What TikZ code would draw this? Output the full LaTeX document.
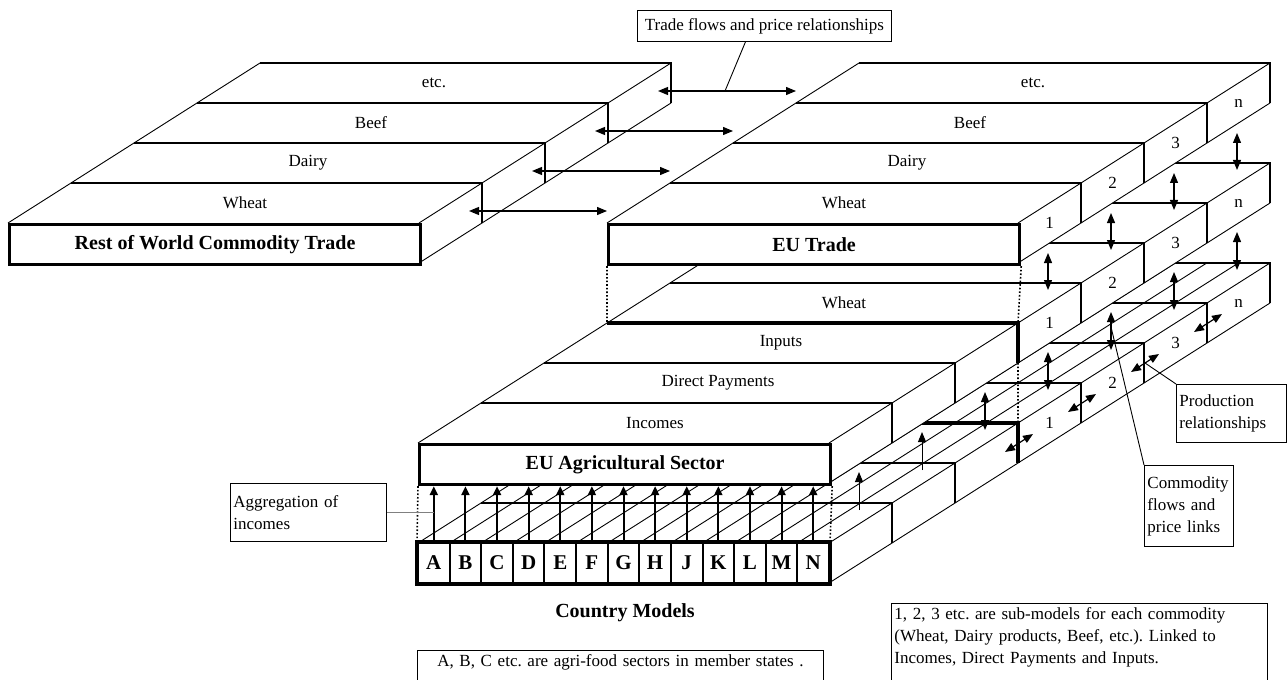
\documentclass[tikz,border=0pt]{standalone}
\usepackage{fontspec}
\setmainfont{Liberation Serif}
\usetikzlibrary{arrows.meta}
\frenchspacing
\tikzset{
  face/.style={fill=white},
  slant/.style={line width=0.45pt},
  backedge/.style={line width=1pt},
  hardedge/.style={line width=1.6pt},
  front/.style={draw,line width=1.6pt,fill=white,inner sep=0pt,anchor=north west,
    minimum width=205.5pt,minimum height=20pt,font=\fontsize{10}{12}\selectfont\bfseries},
  cell/.style={draw,line width=1pt,fill=white,inner sep=0pt,minimum width=15.81pt,
    minimum height=20pt,font=\fontsize{10.5}{12}\selectfont\bfseries},
  lbl/.style={inner sep=0pt,font=\fontsize{8.5}{10}\selectfont},
  title/.style={inner sep=0pt,font=\fontsize{10}{12}\selectfont\bfseries},
  note/.style={draw,line width=0.45pt,fill=white,inner xsep=1.5pt,inner ysep=2pt,
    anchor=north west,align=left,font=\fontsize{8.5}{11}\selectfont},
  leader/.style={line width=0.45pt},
  guide/.style={densely dotted,line width=0.8pt},
  link/.style={line width=0.6pt,{Triangle[length=5pt,width=4pt]}-{Triangle[length=5pt,width=4pt]}},
  uplink/.style={line width=0.5pt,-{Triangle[length=5pt,width=4pt]}},
  sumlink/.style={line width=1pt,-{Triangle[length=4.5pt,width=4pt]}},
}

\begin{document}
\begin{tikzpicture}[x=0.5pt,y=-0.5pt]
\useasboundingbox (0,0) rectangle (1288,679);
\foreach \X/\Y/\bk/\rl [count=\n] in {796/303/backedge/n,733/343/backedge/3,670/383/backedge/2,
  607/423/backedge/1,544/463/hardedge/,481/503/backedge/,418/543/backedge/}{
  \fill[face] (\X,\Y) -- ++(411,0) -- ++(63,-40) -- ++(-411,0) -- cycle;
  \fill[face] (\X+411,\Y) -- ++(63,-40) -- ++(0,40) -- ++(-63,40) -- cycle;
  \foreach \i in {1,...,12} \draw[slant] ({\X+31.615*\i},\Y) -- ++(63,-40);
  \draw[slant] (\X,\Y) -- ++(63,-40) (\X+411,\Y) -- ++(63,-40) (\X+411,\Y+40) -- ++(63,-40);
  \draw[\bk] (\X+63,\Y-40) -- ++(411,0) -- ++(0,40);
  \node[lbl] (cs\n) at (\X+442.5,\Y) {\rl};
}
\foreach \X/\Y/\bk/\tl/\rl [count=\n] in {796/203/backedge//n,733/243/backedge//3,670/283/backedge//2,
  607/323/backedge/Wheat/1,544/363/hardedge/Inputs/,481/403/backedge/Direct Payments/,418/443/backedge/Incomes/,
  796/103/backedge/etc./n,733/143/backedge/Beef/3,670/183/backedge/Dairy/2,607/223/backedge/Wheat/1,
  197/103/backedge/etc./,134/143/backedge/Beef/,71/183/backedge/Dairy/,8/223/backedge/Wheat/}{
  \fill[face] (\X,\Y) -- ++(411,0) -- ++(63,-40) -- ++(-411,0) -- cycle;
  \fill[face] (\X+411,\Y) -- ++(63,-40) -- ++(0,40) -- ++(-63,40) -- cycle;
  \draw[slant] (\X,\Y) -- ++(63,-40) (\X+411,\Y) -- ++(63,-40) (\X+411,\Y+40) -- ++(63,-40);
  \draw[\bk] (\X+63,\Y-40) -- ++(411,0) -- ++(0,40);
  \node[lbl] (top\n) at (\X+237,\Y-20) {\tl};
  \node[lbl] (side\n) at (\X+442.5,\Y) {\rl};
}
\node[front] (row) at (8,223) {Rest of World Commodity Trade};
\node[front] (eutrade) at (607,223) {EU Trade};
\node[front] (euagri) at (418,443) {EU Agricultural Sector};
\foreach \c [count=\i] in {A,B,C,D,E,F,G,H,J,K,L,M,N}
  \node[cell] (c\c) at ({418+31.615*(\i-0.5)},563) {\c};
\draw[hardedge] (cA.north west) rectangle (cN.south east);
\node[title] (cmodels) at (625,613) {Country Models};

\coordinate (ag3nw) at (607,323);
\coordinate (ag3ne) at (1018,323);
\coordinate (ag3se) at (1018,363);
\coordinate (co3ne) at (1018,423);
\draw[guide] (eutrade.south west) -- (ag3nw) (eutrade.south east) -- (ag3ne) (ag3se) -- (co3ne);
\draw[guide] (euagri.south west) -- (cA.north west) (euagri.south east) -- (cN.north east);

\foreach \c in {A,B,C,D,E,F,G,H,J,K,L,M,N}
  \draw[sumlink] (c\c.north) -- (c\c.north |- euagri.south);
\foreach \j in {0,...,3}{
  \coordinate (wl\j) at ({469+63*\j},{211-40*\j});
  \coordinate (wr\j) at ({607+63*\j},{211-40*\j});
  \draw[link] (wl\j) -- (wr\j);
  \coordinate (ua\j) at ({1048+63*\j},{253-40*\j});
  \coordinate (ub\j) at ({1048+63*\j},{290-40*\j});
  \draw[link] (ua\j) -- (ub\j);
  \coordinate (pa\j) at ({1005+63*\j},{452-40*\j});
  \coordinate (pb\j) at ({1033+63*\j},{434-40*\j});
  \draw[link] (pa\j) -- (pb\j);
}
\foreach \k in {0,...,4}{
  \coordinate (la\k) at ({985+63*\k},{392-40*\k});
  \coordinate (lb\k) at ({985+63*\k},{430-40*\k});
  \draw[link] (la\k) -- (lb\k);
}
\coordinate (ia) at (859,510);
\coordinate (ib) at (859,472);
\coordinate (da) at (922,470);
\coordinate (db) at (922,432);
\draw[uplink] (ia) -- (ib);
\draw[uplink] (da) -- (db);

\node[note,align=center,minimum width=127pt,minimum height=15.5pt] (tfbox) at (637,10) {Trade flows and price relationships};
\coordinate (tfend) at (725,91);
\draw[leader] ([xshift=-9.5pt]tfbox.south) -- (tfend);
\node[note,text width=75pt,minimum height=29pt] (aggbox) at (230,483) {Aggregation of\\incomes};
\draw[leader,gray] (aggbox.east) -- (aggbox.east -| cA.north);
\node[note,text width=52pt,minimum height=29pt] (prodbox) at (1176,384) {Production\\relationships};
\coordinate (prodmid) at (1145,363);
\draw[leader] (prodbox.north west) -- (prodmid);
\node[note,text width=41.5pt,minimum height=40.5pt] (combox) at (1144,465) {Commodity\\flows and\\price links};
\coordinate (cflow) at (1111,327);
\draw[leader] (combox.north west) -- (cflow);
\node[note,align=center,text width=200pt] (abcbox) at (417,650) {A, B, C etc. are agri-food sectors in member states .\\ \mbox{}};
\node[note,text width=185pt] (subbox) at (891,603) {1, 2, 3 etc. are sub-models for each commodity\\(Wheat, Dairy products, Beef, etc.). Linked to\\Incomes, Direct Payments and Inputs.\\ \mbox{}};
\end{tikzpicture}
\end{document}
